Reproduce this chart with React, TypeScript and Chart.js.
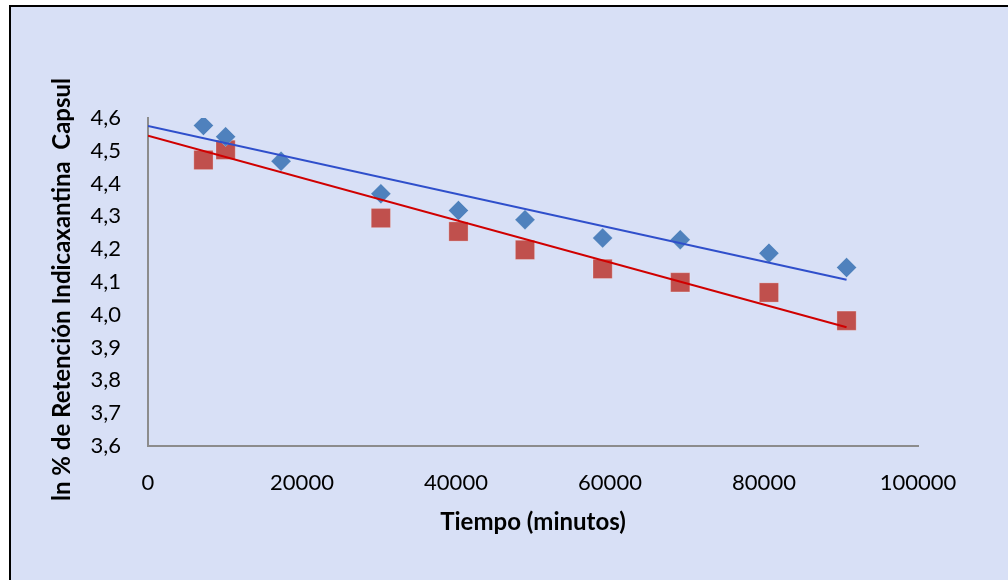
import React, { useEffect, useRef } from "react";
import { Chart, registerables } from "chart.js";

Chart.register(...registerables);

// Time in minutes (shared by both series)
const timeBlue = [7200, 10080, 17280, 30240, 40320, 48960, 59040, 69120, 80640, 90720];
const lnBlue = [4.577, 4.543, 4.468, 4.369, 4.318, 4.290, 4.234, 4.229, 4.188, 4.144];
const timeRed = [7200, 10080, 30240, 40320, 48960, 59040, 69120, 80640, 90720];
const lnRed = [4.472, 4.503, 4.295, 4.254, 4.198, 4.140, 4.099, 4.068, 3.982];

// Linear trend line end points
const trendX = [0, 90720];
const trendBlue = [4.576, 4.107];
const trendRed = [4.546, 3.962];

const xTicks = [0, 20000, 40000, 60000, 80000, 100000];
const yTicks = [3.6, 3.7, 3.8, 3.9, 4.0, 4.1, 4.2, 4.3, 4.4, 4.5, 4.6];

const xTitle = "Tiempo (minutos)";
const yTitle = "ln % de Retención Indicaxantina  Capsul";

const FONT = "Lato, 'Open Sans', sans-serif";

export default function App() {
  const ref = useRef<HTMLCanvasElement | null>(null);

  useEffect(() => {
    const canvas = ref.current;
    if (!canvas) return;

    const bgPlugin = {
      id: "bgFrame",
      beforeDraw(chart: any) {
        const ctx = chart.ctx;
        ctx.save();
        ctx.fillStyle = "#ffffff";
        ctx.fillRect(0, 0, chart.width, chart.height);
        ctx.fillStyle = "#D8E0F6";
        ctx.fillRect(10, 6, chart.width - 10, chart.height - 6);
        ctx.strokeStyle = "#000000";
        ctx.lineWidth = 2;
        ctx.beginPath();
        ctx.moveTo(10, chart.height);
        ctx.lineTo(10, 6);
        ctx.lineTo(chart.width, 6);
        ctx.stroke();
        ctx.restore();
      },
      afterDraw(chart: any) {
        const ctx = chart.ctx;
        ctx.save();
        ctx.translate(62, 289.5);
        ctx.rotate(-Math.PI / 2);
        ctx.font = "bold 24px " + FONT;
        ctx.fillStyle = "#000000";
        ctx.textAlign = "center";
        ctx.textBaseline = "middle";
        ctx.fillText(yTitle, 0, 0);
        ctx.restore();
      },
    };

    const chart = new Chart(canvas, {
      type: "scatter",
      data: {
        datasets: [
          {
            label: "Indicaxantina 1",
            data: timeBlue.map((x, i) => ({ x, y: lnBlue[i] })),
            backgroundColor: "#4F81BD",
            borderColor: "rgba(255,255,255,0.25)",
            borderWidth: 1,
            pointStyle: "rectRot",
            pointRadius: 10,
            order: 2,
          },
          {
            label: "Indicaxantina 2",
            data: timeRed.map((x, i) => ({ x, y: lnRed[i] })),
            backgroundColor: "#C0504D",
            borderColor: "rgba(255,255,255,0.25)",
            borderWidth: 1,
            pointStyle: "rect",
            pointRadius: 13.6,
            order: 2,
          },
          {
            type: "line",
            label: "Lineal 1",
            data: trendX.map((x, i) => ({ x, y: trendBlue[i] })),
            borderColor: "#2F4FCB",
            borderWidth: 2,
            pointRadius: 0,
            fill: false,
            showLine: true,
            order: 1,
          },
          {
            type: "line",
            label: "Lineal 2",
            data: trendX.map((x, i) => ({ x, y: trendRed[i] })),
            borderColor: "#D00000",
            borderWidth: 2,
            pointRadius: 0,
            fill: false,
            showLine: true,
            order: 1,
          },
        ],
      },
      options: {
        animation: false,
        responsive: false,
        maintainAspectRatio: false,
        layout: { padding: { left: 30, top: 118, right: 90, bottom: 34 } },
        plugins: {
          legend: { display: false },
          tooltip: { enabled: false },
          title: { display: false },
        },
        scales: {
          x: {
            type: "linear",
            min: xTicks[0],
            max: xTicks[xTicks.length - 1],
            afterFit: (s: any) => {
              s.height = 100;
            },
            afterBuildTicks: (s: any) => {
              s.ticks = xTicks.map((v) => ({ value: v }));
            },
            ticks: {
              callback: (v: any) => String(v),
              font: { family: FONT, size: 22 },
              color: "#000000",
              padding: 24,
              maxRotation: 0,
            },
            grid: { display: false, drawTicks: false },
            border: { display: true, color: "#8C8C8C", width: 2 },
            title: {
              display: true,
              text: xTitle,
              font: { family: FONT, size: 24, weight: "bold" },
              color: "#000000",
              padding: { top: 0, bottom: 9 },
            },
          },
          y: {
            type: "linear",
            min: yTicks[0],
            max: yTicks[yTicks.length - 1],
            afterFit: (s: any) => {
              s.width = 118;
            },
            afterBuildTicks: (s: any) => {
              s.ticks = yTicks.map((v) => ({ value: v }));
            },
            ticks: {
              callback: (v: any) => Number(v).toFixed(1).replace(".", ","),
              font: { family: FONT, size: 22 },
              color: "#000000",
              padding: 27,
            },
            grid: { display: false, drawTicks: false },
            border: { display: true, color: "#8C8C8C", width: 2 },
          },
        },
      },
      plugins: [bgPlugin],
    });

    return () => {
      chart.destroy();
    };
  }, []);

  return (
    <div style={{ position: "absolute", left: 0, top: 0, width: 1008, height: 580 }}>
      <canvas ref={ref} width={1008} height={580} style={{ width: 1008, height: 580, display: "block" }} />
    </div>
  );
}
